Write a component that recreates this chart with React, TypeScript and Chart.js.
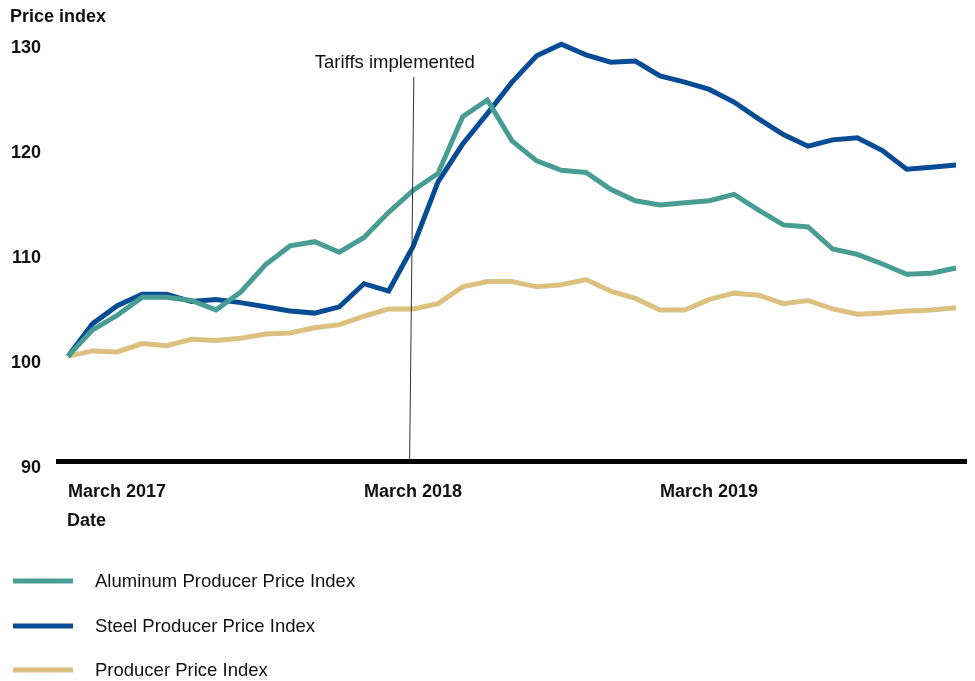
import React, { useEffect, useRef } from "react";
import { Chart, registerables } from "chart.js";

Chart.register(...registerables);

const months = [
  "March 2017", "April 2017", "May 2017", "June 2017", "July 2017", "August 2017",
  "September 2017", "October 2017", "November 2017", "December 2017", "January 2018", "February 2018",
  "March 2018", "April 2018", "May 2018", "June 2018", "July 2018", "August 2018",
  "September 2018", "October 2018", "November 2018", "December 2018", "January 2019", "February 2019",
  "March 2019", "April 2019", "May 2019", "June 2019", "July 2019", "August 2019",
  "September 2019", "October 2019", "November 2019", "December 2019", "January 2020", "February 2020",
  "March 2020",
];

const aluminum = [
  100.7, 103.2, 104.6, 106.3, 106.3, 106.0, 105.1, 106.8, 109.4, 111.2, 111.6, 110.6,
  112.0, 114.4, 116.5, 118.1, 123.5, 125.1, 121.2, 119.3, 118.4, 118.2, 116.6, 115.5,
  115.1, 115.3, 115.5, 116.1, 114.6, 113.2, 113.0, 110.9, 110.4, 109.5, 108.5, 108.6,
  109.1,
];

const steel = [
  100.7, 103.8, 105.5, 106.6, 106.6, 105.9, 106.1, 105.8, 105.4, 105.0, 104.8, 105.4,
  107.6, 106.9, 111.2, 117.3, 120.9, 123.8, 126.8, 129.3, 130.4, 129.4, 128.7, 128.8,
  127.4, 126.8, 126.1, 124.9, 123.3, 121.8, 120.7, 121.3, 121.5, 120.3, 118.5, 118.7,
  118.9,
];

const ppi = [
  100.7, 101.2, 101.1, 101.9, 101.7, 102.3, 102.2, 102.4, 102.8, 102.9, 103.4, 103.7,
  104.5, 105.2, 105.2, 105.7, 107.3, 107.8, 107.8, 107.3, 107.5, 108.0, 106.9, 106.2,
  105.1, 105.1, 106.1, 106.7, 106.5, 105.7, 106.0, 105.2, 104.7, 104.8, 105.0, 105.1,
  105.3,
];

const seriesNames = [
  "Aluminum Producer Price Index",
  "Steel Producer Price Index",
  "Producer Price Index",
];
const seriesColors = ["#479d94", "#064c95", "#dcc07f"];

const tickLabels = ["March 2017", "March 2018", "March 2019"];
const yTicks = [90, 100, 110, 120, 130];
const tariffPosition = 13.9;
const tariffLabel = "Tariffs implemented";
const yTitle = "Price index";
const xTitle = "Date";

const FONT = "'Liberation Sans', Arial, Helvetica, sans-serif";

export default function App() {
  const ref = useRef<HTMLCanvasElement>(null);

  useEffect(() => {
    if (!ref.current) return;

    const overlay = {
      id: "overlay",
      beforeDatasetsDraw(chart: any) {
        const ctx = chart.ctx;
        const x = chart.scales.x;
        const y = chart.scales.y;
        ctx.save();
        const axisY = y.getPixelForValue(90) - 7;
        ctx.strokeStyle = "#000";
        ctx.lineWidth = 5;
        ctx.beginPath();
        ctx.moveTo(x.left - 12, axisY);
        ctx.lineTo(x.right + 11, axisY);
        ctx.stroke();
        ctx.restore();
      },
      afterDatasetsDraw(chart: any) {
        const ctx = chart.ctx;
        const x = chart.scales.x;
        const y = chart.scales.y;
        ctx.save();
        const axisY = y.getPixelForValue(90) - 9;
        const topX = x.getPixelForValue(tariffPosition + 0.12);
        const botX = x.getPixelForValue(tariffPosition - 0.05);
        ctx.strokeStyle = "#333";
        ctx.lineWidth = 1;
        ctx.beginPath();
        ctx.moveTo(topX, 77);
        ctx.lineTo(botX, axisY);
        ctx.stroke();

        ctx.fillStyle = "#111";
        ctx.font = `18.5px ${FONT}`;
        ctx.textAlign = "center";
        ctx.textBaseline = "alphabetic";
        ctx.fillText(tariffLabel, topX - 19, 67.5);

        ctx.font = `bold 18px ${FONT}`;
        ctx.textAlign = "left";
        ctx.fillText(yTitle, 10, 21.5);
        ctx.fillText(xTitle, 67, 526);

        // legend
        const rows = [581, 626, 670];
        chart.data.datasets.forEach((ds: any, i: number) => {
          const cy = rows[i];
          ctx.strokeStyle = ds.borderColor;
          ctx.lineWidth = 5;
          ctx.beginPath();
          ctx.moveTo(13, cy);
          ctx.lineTo(73, cy);
          ctx.stroke();
          ctx.fillStyle = "#111";
          ctx.font = `18.5px ${FONT}`;
          ctx.textAlign = "left";
          ctx.textBaseline = "middle";
          ctx.fillText(ds.label, 95, cy + 1);
        });
        ctx.restore();
      },
    };

    const chart = new Chart(ref.current, {
      type: "line",
      data: {
        labels: months,
        datasets: [
          { label: seriesNames[0], data: aluminum, borderColor: seriesColors[0] },
          { label: seriesNames[1], data: steel, borderColor: seriesColors[1] },
          { label: seriesNames[2], data: ppi, borderColor: seriesColors[2] },
        ].map((d) => ({
          ...d,
          backgroundColor: d.borderColor,
          borderWidth: 5,
          pointRadius: 0,
          pointHoverRadius: 0,
          tension: 0,
          fill: false,
        })),
      },
      options: {
        responsive: false,
        animation: false,
        events: [],
        layout: { padding: { left: 10, right: 19, top: 38, bottom: 0 } },
        plugins: {
          legend: { display: false },
          tooltip: { enabled: false },
          title: { display: false },
        },
        scales: {
          x: {
            type: "category",
            offset: false,
            grid: { display: false, drawTicks: false },
            border: { display: false },
            afterFit(scale: any) {
              scale.height = 212.5;
            },
            ticks: {
              autoSkip: false,
              maxRotation: 0,
              minRotation: 0,
              align: "start",
              padding: 13,
              color: "#111",
              font: { family: FONT, size: 18, weight: "bold" },
              callback(this: any, _v: any, index: number) {
                const lbl = months[index];
                return tickLabels.includes(lbl) ? lbl : null;
              },
            },
          },
          y: {
            type: "linear",
            min: 90,
            max: 131,
            grid: { display: false, drawTicks: false },
            border: { display: false },
            afterFit(scale: any) {
              scale.width = 58;
            },
            afterBuildTicks(scale: any) {
              scale.ticks = yTicks.map((v) => ({ value: v }));
            },
            ticks: {
              padding: 27,
              color: "#111",
              font: { family: FONT, size: 18, weight: "bold" },
            },
          },
        },
      },
      plugins: [overlay],
    } as any);

    return () => chart.destroy();
  }, []);

  return (
    <canvas
      ref={ref}
      width={975}
      height={681}
      style={{ position: "absolute", left: 0, top: 0, width: 975, height: 681 }}
    />
  );
}
